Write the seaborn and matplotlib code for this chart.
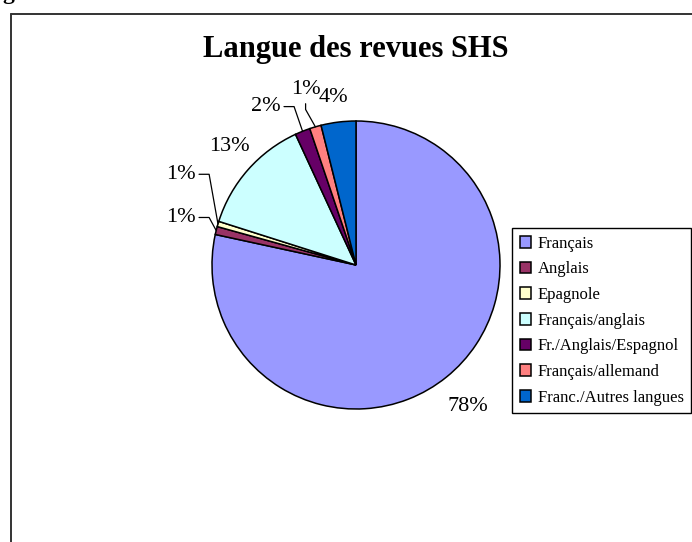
import matplotlib.pyplot as plt
import numpy as np
import seaborn as sns
from matplotlib.lines import Line2D

# Données (parts en %)
LANGUES = [
    "Français", "Anglais", "Epagnole", "Français/anglais",
    "Fr./Anglais/Espagnol", "Français/allemand", "Franc./Autres langues",
]
PARTS = [78.4, 0.9, 0.6, 13.2, 1.7, 1.3, 3.9]
COULEURS = ["#9999FF", "#993366", "#FFFFCC", "#CCFFFF",
            "#660066", "#FF8080", "#0066CC"]

# position des étiquettes (rayon du camembert = 1), alignement, filet de rappel
POS_ETIQ = [(0.78, -0.98), (-1.11, 0.33), (-1.11, 0.63), (-0.88, 0.82),
            (-0.52, 1.10), (-0.35, 1.22), (-0.16, 1.16)]
ALIGN = ["center", "right", "right", "center", "right", "center", "center"]
FILET = [False, True, True, False, True, True, False]

sns.set_theme(style="white")
plt.rcParams["font.family"] = ["Liberation Serif", "DejaVu Serif"]
plt.rcParams["text.color"] = "black"

W, H = 692, 542
fig = plt.figure(figsize=(W / 100, H / 100), dpi=100)

# cadre de la zone graphique (coupé à droite et en bas)
fig.add_artist(Line2D([10.5 / W, 10.5 / W], [0, 1 - 14 / H],
                      color="#333333", lw=1.4, transform=fig.transFigure))
fig.add_artist(Line2D([10.5 / W, 1], [1 - 14 / H, 1 - 14 / H],
                      color="#333333", lw=1.4, transform=fig.transFigure))
# reste du texte du document au-dessus
fig.text(2 / W, 1 + 1 / H, "g", fontsize=17, fontweight="bold",
         va="baseline", ha="left")

cx, cy, r = 356, 265, 147
half = 180
ax = fig.add_axes([(cx - half) / W, (H - cy - half) / H, 2 * half / W, 2 * half / H])
lim = half / r
ax.set_xlim(-lim, lim)
ax.set_ylim(-lim, lim)
ax.axis("off")

wedges, _ = ax.pie(PARTS, colors=COULEURS, startangle=90, counterclock=False,
                   radius=1, wedgeprops=dict(edgecolor="black", linewidth=1.1))

total = sum(PARTS)
for w, v, (tx, ty), ha, filet in zip(wedges, PARTS, POS_ETIQ, ALIGN, FILET):
    lab = f"{v / total * 100:.0f}%"
    ax.text(tx, ty, lab, ha=ha, va="center", fontsize=16)
    if filet:
        mid = np.deg2rad((w.theta1 + w.theta2) / 2)
        ex, ey = np.cos(mid), np.sin(mid)
        if ha == "right":
            sx, sy = tx + 0.02, ty
            ax.plot([sx, sx + 0.07, ex], [sy, sy, ey], color="black", lw=0.9,
                    clip_on=False)
        else:
            sx, sy = tx, ty - 0.1
            ax.plot([sx, sx, ex], [sy, sy - 0.04, ey], color="black", lw=0.9,
                    clip_on=False)

fig.text(356 / W, 1 - 50 / H, "Langue des revues SHS", ha="center", va="center",
         fontsize=22, fontweight="bold")

leg = fig.legend(wedges, LANGUES, loc="upper left",
                 bbox_to_anchor=(512 / W, 1 - 228 / H), fontsize=12,
                 frameon=True, fancybox=False, framealpha=1, edgecolor="black",
                 handlelength=0.7, handleheight=0.7, handletextpad=0.4,
                 labelspacing=0.58, borderpad=0.45, borderaxespad=0)
leg.get_frame().set_linewidth(1.0)

fig.savefig("out.png", dpi=100)
